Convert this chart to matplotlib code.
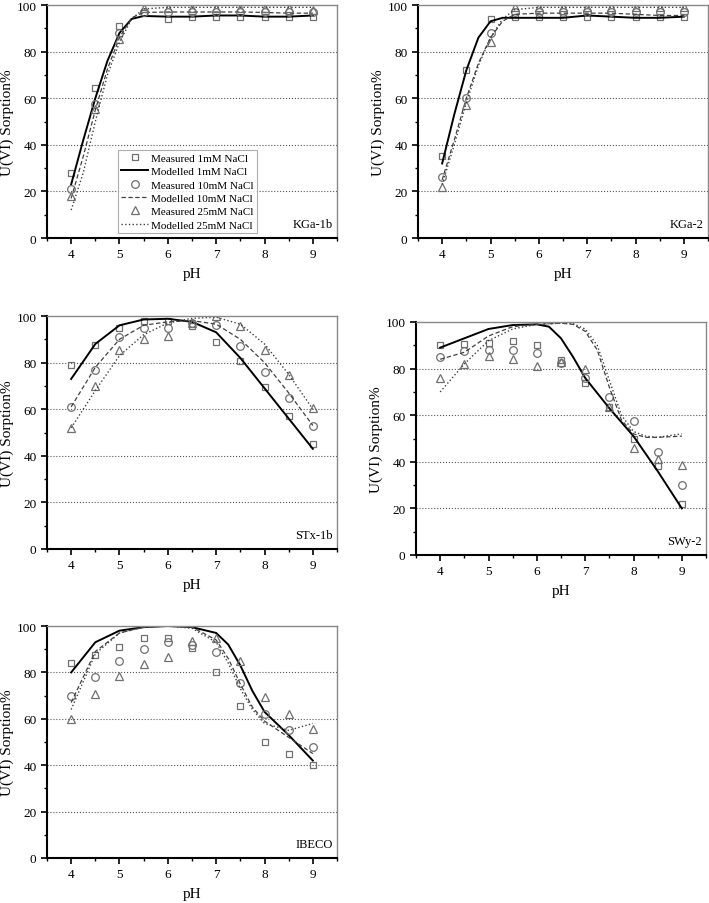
import numpy as np
import matplotlib.pyplot as plt

plt.rcParams['font.family'] = ['Liberation Serif', 'DejaVu Serif']

# measured pH points
ph = [4, 4.5, 5, 5.5, 6, 6.5, 7, 7.5, 8, 8.5, 9]

# ---- KGa-1b
kga1_m1 = [28, 64.5, 91, 96.5, 94, 95, 95, 95, 95, 95, 95]
kga1_m10 = [21, 57.5, 88, 97, 97, 97, 97, 97, 97, 97, 97]
kga1_m25 = [18, 55.5, 85.5, 98.5, 98.5, 98.5, 98.5, 98.5, 98.5, 98.5, 98]
kga1_ph_mod = [4, 4.25, 4.5, 4.75, 5, 5.25, 5.5, 6, 6.5, 7, 7.5, 8, 8.5, 9]
kga1_c1 = [23, 42, 60, 76, 88, 94, 95.3, 95, 95, 95.5, 95.5, 95, 95, 95.5]
kga1_c10 = [17, 35, 55, 72.5, 86, 94.5, 96.8, 97, 97, 97, 97, 96.8, 96.5, 96.5]
kga1_c25 = [12, 28, 50, 70, 84, 94, 98.3, 99, 99, 99, 99, 99, 99, 99]

# ---- KGa-2
kga2_m1 = [35, 72, 94, 95, 95, 95, 95, 95, 95, 95, 95]
kga2_m10 = [26, 60, 88, 97, 97, 97, 97, 97, 97, 97, 97]
kga2_m25 = [22, 57, 84, 99, 99, 99, 99, 99, 99, 99, 99]
kga2_ph_mod = [4, 4.25, 4.5, 4.75, 5, 5.25, 5.5, 6, 6.5, 7, 7.5, 8, 8.5, 9]
kga2_c1 = [32, 53, 72, 86, 93, 94.5, 94.5, 94.5, 94.5, 95.5, 95, 94.5, 94.5, 95]
kga2_c10 = [25, 42, 60, 75, 86, 93, 96, 96.5, 96.5, 96.5, 96.5, 96, 95.5, 95.5]
kga2_c25 = [23, 40, 58, 74, 86, 94, 98, 99, 99, 99, 99, 99, 99, 99]

# ---- STx-1b
stx_m1 = [79, 87.5, 95, 98, 98, 95.5, 89, 80.5, 69.5, 57, 45]
stx_m10 = [61, 77, 91, 95, 95, 97, 96, 87, 76, 65, 53]
stx_m25 = [52, 70, 85.5, 90, 91.5, 97, 100, 95.5, 85.5, 74.5, 60.5]
stx_ph_mod = [4, 4.5, 5, 5.5, 6, 6.5, 7, 7.5, 8, 8.5, 9]
stx_c1 = [73, 88, 96, 98.5, 98.8, 97.5, 93, 82, 69, 56, 43]
stx_c10 = [61, 78, 90, 96, 97.5, 98, 96.5, 90, 80, 67, 53]
stx_c25 = [52, 68, 83, 92, 97, 99, 99.5, 96.5, 88, 75, 60]

# ---- SWy-2
swy_m1 = [90, 90.5, 91, 92, 90, 83.5, 74, 63.5, 50, 38, 22]
swy_m10 = [85, 87.5, 88, 88, 86.5, 82.5, 76, 68, 57.5, 44, 30]
swy_m25 = [76, 82, 85.5, 84, 81, 83, 80, 63.5, 46, 41, 38.5]
swy_ph_c1 = [4, 4.5, 5, 5.5, 6, 6.25, 6.5, 6.75, 7, 7.5, 8, 8.5, 9]
swy_c1 = [89, 93, 97, 98.7, 99, 98, 93, 85, 76, 63, 51, 36, 20]
swy_ph_c = [4, 4.5, 5, 5.5, 6, 6.5, 6.75, 7, 7.25, 7.5, 7.75, 8, 8.25, 8.5, 9]
swy_c10 = [84, 87, 94, 98, 99, 99.5, 99, 96, 88, 72, 58, 52, 50.5, 50.5, 51]
swy_c25 = [70, 82, 92, 97, 99, 99.5, 99.3, 97, 90, 75, 60, 53, 51, 50.5, 52]

# ---- IBECO
ibe_m1 = [84, 87.5, 91, 95, 95, 90.5, 80, 65.5, 50, 45, 40]
ibe_m10 = [70, 78, 85, 90, 93, 92, 89, 75.5, 62, 55, 48]
ibe_m25 = [60, 70.5, 78.5, 83.5, 86.5, 93.5, 95, 85, 69.5, 62, 55.5]
ibe_ph_mod = [4, 4.5, 5, 5.5, 6, 6.5, 7, 7.25, 7.5, 7.75, 8, 8.5, 9]
ibe_c1 = [80, 93, 98, 99.5, 100, 99.5, 97, 92, 83, 72, 63, 53, 42]
ibe_c10 = [67, 89, 97, 99.5, 100, 99.5, 94, 86, 75, 65, 59, 52, 45]
ibe_c25 = [64, 88, 97, 99.5, 100, 99, 93, 84, 73, 64, 58, 55, 58]

panels = [
    ('KGa-1b', [47, 239, 290, 233], kga1_m1, kga1_m10, kga1_m25, kga1_ph_mod, kga1_ph_mod, kga1_c1, kga1_c10, kga1_c25),
    ('KGa-2', [418, 239, 290, 233], kga2_m1, kga2_m10, kga2_m25, kga2_ph_mod, kga2_ph_mod, kga2_c1, kga2_c10, kga2_c25),
    ('STx-1b', [47, 550, 290, 233], stx_m1, stx_m10, stx_m25, stx_ph_mod, stx_ph_mod, stx_c1, stx_c10, stx_c25),
    ('SWy-2', [416, 556, 290, 233], swy_m1, swy_m10, swy_m25, swy_ph_c1, swy_ph_c, swy_c1, swy_c10, swy_c25),
    ('IBECO', [47, 859, 290, 232], ibe_m1, ibe_m10, ibe_m25, ibe_ph_mod, ibe_ph_mod, ibe_c1, ibe_c10, ibe_c25),
]

W, H = 709, 904
fig = plt.figure(figsize=(W / 100, H / 100), dpi=100)
grey = '#707070'

for i, (name, box, m1, m10, m25, phc1, phc, c1, c10, c25) in enumerate(panels):
    l, b, w, h = box
    ax = fig.add_axes([l / W, (H - b) / H, w / W, h / H])
    ax.plot(ph, m1, 's', mfc='none', mec=grey, ms=5, mew=0.9, label='Measured 1mM NaCl')
    ax.plot(phc1, c1, '-', color='black', lw=1.4, label='Modelled 1mM NaCl')
    ax.plot(ph, m10, 'o', mfc='none', mec=grey, ms=5.5, mew=0.9, label='Measured 10mM NaCl')
    ax.plot(phc, c10, '--', color='#404040', lw=0.9, dashes=(3.5, 2), label='Modelled 10mM NaCl')
    ax.plot(ph, m25, '^', mfc='none', mec=grey, ms=6, mew=0.9, label='Measured 25mM NaCl')
    ax.plot(phc, c25, ':', color='#404040', lw=1.0, label='Modelled 25mM NaCl')

    ax.set_xlim(3.5, 9.5)
    ax.set_ylim(0, 100)
    ax.set_xticks([4, 5, 6, 7, 8, 9])
    ax.set_xticks(np.arange(3.5, 9.6, 0.5), minor=True)
    ax.set_yticks([0, 20, 40, 60, 80, 100])
    ax.set_yticks(np.arange(0, 101, 10), minor=True)
    for y in [20, 40, 60, 80]:
        ax.axhline(y, color='#555555', ls=':', lw=0.8, zorder=0)
    ax.tick_params(direction='out', labelsize=9.5, width=1.2, length=4)
    ax.tick_params(which='minor', direction='out', width=1, length=2.5)
    for s in ['left', 'bottom']:
        ax.spines[s].set_linewidth(1.5)
    for s in ['top', 'right']:
        ax.spines[s].set_color('#888888')
        ax.spines[s].set_linewidth(1.0)
    ax.set_xlabel('pH', fontsize=11, labelpad=5)
    ax.set_ylabel('U(VI) Sorption%', fontsize=11, labelpad=2)
    ax.text(0.985, 0.035, name, transform=ax.transAxes, ha='right', va='bottom', fontsize=9)
    if i == 0:
        leg = ax.legend(loc='lower left', bbox_to_anchor=(0.245, 0.022), fontsize=8,
                        frameon=True, fancybox=False, edgecolor='#999999',
                        handlelength=2.4, handletextpad=0.25, borderpad=0.3,
                        labelspacing=0.32, borderaxespad=0)
        leg.get_frame().set_linewidth(0.8)

fig.savefig('out.png', dpi=100)
